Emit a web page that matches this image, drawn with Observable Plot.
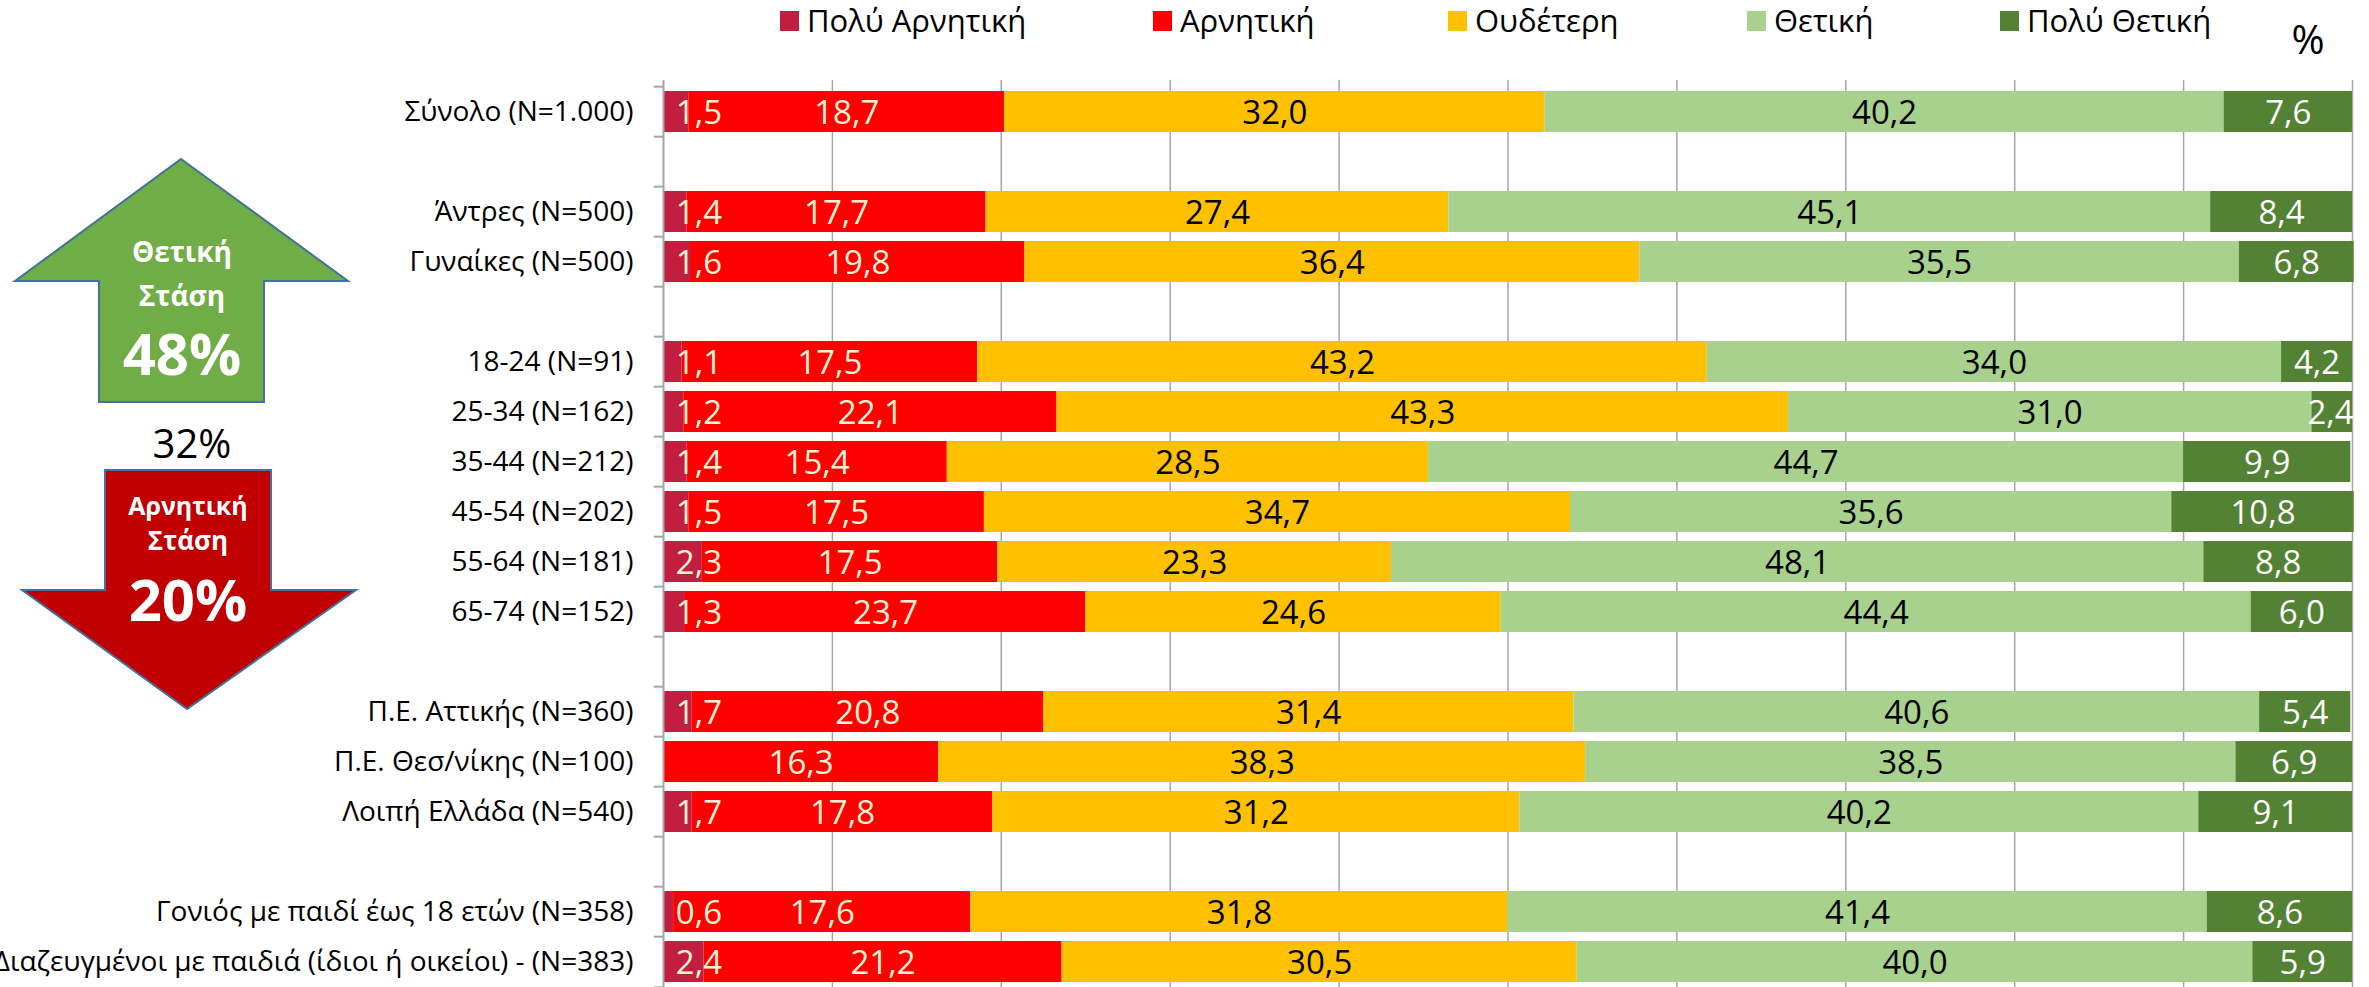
<!DOCTYPE html>
<html><head><meta charset="utf-8">
<script src="https://cdn.jsdelivr.net/npm/d3@7"></script>
<script src="https://cdn.jsdelivr.net/npm/@observablehq/plot@0.6"></script>
<style>
html,body{margin:0;padding:0;background:#fff;overflow:hidden}
#wrap{position:relative;width:2369px;height:987px;font-family:'Open Sans',sans-serif}
#chart{position:absolute;left:0;top:0}
#deco{position:absolute;left:0;top:0;pointer-events:none}
</style></head>
<body><div id="wrap"><div id="chart"></div><svg id="deco" width="2369" height="987"></svg></div>
<script>
// ---- data ----
const groups = [
  "Σύνολο (N=1.000)",
  "Άντρες (N=500)", "Γυναίκες (N=500)",
  "18-24 (N=91)", "25-34 (N=162)", "35-44 (N=212)", "45-54 (N=202)", "55-64 (N=181)", "65-74 (N=152)",
  "Π.Ε. Αττικής (N=360)", "Π.Ε. Θεσ/νίκης (N=100)", "Λοιπή Ελλάδα (N=540)",
  "Γονιός με παιδί έως 18 ετών (N=358)", "Διαζευγμένοι με παιδιά (ίδιοι ή οικείοι) - (N=383)"
];
const rowOrder = [
  "Σύνολο (N=1.000)", " ",
  "Άντρες (N=500)", "Γυναίκες (N=500)", "  ",
  "18-24 (N=91)", "25-34 (N=162)", "35-44 (N=212)", "45-54 (N=202)", "55-64 (N=181)", "65-74 (N=152)", "   ",
  "Π.Ε. Αττικής (N=360)", "Π.Ε. Θεσ/νίκης (N=100)", "Λοιπή Ελλάδα (N=540)", "    ",
  "Γονιός με παιδί έως 18 ετών (N=358)", "Διαζευγμένοι με παιδιά (ίδιοι ή οικείοι) - (N=383)"
];
const categories = ["Πολύ Αρνητική", "Αρνητική", "Ουδέτερη", "Θετική", "Πολύ Θετική"];
const veryNegative = [1.5, 1.4, 1.6, 1.1, 1.2, 1.4, 1.5, 2.3, 1.3, 1.7, 0, 1.7, 0.6, 2.4];
const negative     = [18.7, 17.7, 19.8, 17.5, 22.1, 15.4, 17.5, 17.5, 23.7, 20.8, 16.3, 17.8, 17.6, 21.2];
const neutral      = [32.0, 27.4, 36.4, 43.2, 43.3, 28.5, 34.7, 23.3, 24.6, 31.4, 38.3, 31.2, 31.8, 30.5];
const positive     = [40.2, 45.1, 35.5, 34.0, 31.0, 44.7, 35.6, 48.1, 44.4, 40.6, 38.5, 40.2, 41.4, 40.0];
const veryPositive = [7.6, 8.4, 6.8, 4.2, 2.4, 9.9, 10.8, 8.8, 6.0, 5.4, 6.9, 9.1, 8.6, 5.9];
const gridTicks = [10, 20, 30, 40, 50, 60, 70, 80, 90, 100];

const colors = ["#c21e3f", "#ff0000", "#ffc000", "#a9d18e", "#548235"];
const attitude = {pos: "48%", mid: "32%", neg: "20%"};

// ---- build table ----
const series = [veryNegative, negative, neutral, positive, veryPositive];
const segs = [];
groups.forEach((g, i) => {
  let acc = 0;
  series.forEach((s, j) => {
    const v = s[i];
    const mid = acc + v / 2;
    let lx = mid;
    if (j === 0) lx = Math.max(mid, 2.1);
    if (j === 4) lx = Math.min(mid, 98.7);
    segs.push({group: g, cat: categories[j], j, value: v, x1: acc, x2: acc + v, lx,
               label: v > 0 ? v.toFixed(1).replace(".", ",") : ""});
    acc += v;
  });
});
const fmt = d => d.label;
const step = (992 - 80) / rowOrder.length;

const chart = Plot.plot({
  width: 2369, height: 987,
  marginLeft: 663, marginRight: 17, marginTop: 80, marginBottom: 0,
  style: {fontFamily: "'Open Sans', sans-serif", background: "white", overflow: "visible"},
  x: {domain: [0, 100], axis: null},
  y: {domain: rowOrder, range: [80, 992], paddingInner: 0.19, paddingOuter: 0.095, align: 0.5, axis: null},
  color: {domain: categories, range: colors},
  marks: [
    Plot.ruleX(gridTicks, {x: d => d, stroke: "#a6a6a6", strokeWidth: 1.5}),
    Plot.barX(segs, {x1: "x1", x2: "x2", y: "group", fill: "cat"}),
    Plot.ruleX([0], {x: d => d, stroke: "#a6a6a6", strokeWidth: 2}),
    Plot.ruleY(rowOrder, {y: d => d, x1: -0.55, x2: 0, dy: -step / 2, stroke: "#a6a6a6", strokeWidth: 2}),
    Plot.ruleY(rowOrder.slice(-1), {y: d => d, x1: -0.55, x2: 0, dy: step / 2, stroke: "#a6a6a6", strokeWidth: 2}),
    Plot.text(segs.filter(d => d.j === 0 || d.j === 1 || d.j === 4), {x: "lx", y: "group", text: fmt, fill: d => d.j === 4 ? "#ffffff" : "#fff3d6", fontSize: 33, dy: 1}),
    Plot.text(segs.filter(d => d.j === 2 || d.j === 3), {x: "lx", y: "group", text: fmt, fill: "#000000", fontSize: 33, dy: 1}),
    Plot.text(groups, {x: 0, y: d => d, text: d => d, textAnchor: "end", dx: -30, fill: "#000", fontSize: 28})
  ]
});
document.getElementById("chart").appendChild(chart);

// ---- legend & annotation arrows ----
const deco = d3.select("#deco").style("font-family", "'Open Sans', sans-serif");
const legendX = [780, 1153, 1448, 1747, 2000];
categories.forEach((c, j) => {
  deco.append("rect").attr("x", legendX[j]).attr("y", 11).attr("width", 19).attr("height", 20).attr("fill", colors[j]);
  deco.append("text").attr("x", legendX[j] + 27).attr("y", 32).attr("font-size", 31).attr("fill", "#000").text(c);
});
deco.append("text").attr("x", 2308).attr("y", 54).attr("text-anchor", "middle").attr("font-size", 40).attr("fill", "#000").text("%");

deco.append("polygon")
  .attr("points", "181,159 348,281 264,281 264,402 99,402 99,281 15,281")
  .attr("fill", "#70ad47").attr("stroke", "#41719c").attr("stroke-width", 2);
deco.append("polygon")
  .attr("points", "105,470 271,470 271,590 356,590 187,709 22,590 105,590")
  .attr("fill", "#c00000").attr("stroke", "#41719c").attr("stroke-width", 2);

const t = (x, y, s, size, weight, fill) => deco.append("text").attr("x", x).attr("y", y)
  .attr("text-anchor", "middle").attr("dominant-baseline", "central")
  .attr("font-size", size).attr("font-weight", weight).attr("fill", fill).text(s);
t(182, 251, "Θετική", 28, 700, "#fff");
t(182, 295, "Στάση", 28, 700, "#fff");
t(182, 352, attitude.pos, 58, 700, "#fff");
t(192, 442, attitude.mid, 40, 400, "#000");
t(188, 505, "Αρνητική", 25, 700, "#fff");
t(188, 540, "Στάση", 26, 700, "#fff");
t(188, 598, attitude.neg, 58, 700, "#fff");
</script></body></html>
